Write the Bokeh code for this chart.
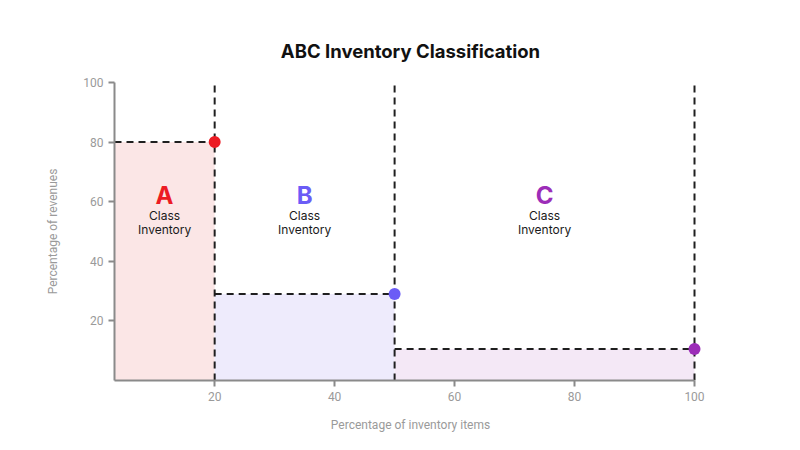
from bokeh.plotting import figure
from bokeh.models import ColumnDataSource, Range1d, FixedTicker
from bokeh.core.properties import value
from bokeh.embed import file_html
from bokeh.resources import INLINE

classes = ["A", "B", "C"]
x_start = [3.3, 20, 50]
x_end = [20, 50, 100]
revenue = [80, 29, 10.6]
label_y = [59, 59, 59]
sub_text = ["Class\nInventory", "Class\nInventory", "Class\nInventory"]
strong_colors = ["#ec1c24", "#6b5cf6", "#9c2db8"]
fill_colors = ["#fbe6e6", "#eeebfc", "#f4e8f6"]
x_ticks = [20, 40, 60, 80, 100]
y_ticks = [20, 40, 60, 80, 100]

x_mid = [(a + b) / 2 for a, b in zip(x_start, x_end)]
src = ColumnDataSource(dict(
    x0=x_start, x1=x_end, y=revenue, base=[0, 0, 0],
    top=[100, 100, 100], xm=x_mid, ly=label_y, cls=classes, sub=sub_text,
    sc=strong_colors, fc=fill_colors,
))

p = figure(width=800, height=450, output_backend="svg", toolbar_location=None,
           x_range=Range1d(x_start[0], 102), y_range=Range1d(0, 100),
           min_border_left=114, min_border_right=94, min_border_top=82,
           min_border_bottom=70, outline_line_color=None)

p.title.text = "ABC Inventory Classification"
p.title.align = "center"
p.title.text_font = "Inter"
p.title.text_font_size = "18.5px"
p.title.text_font_style = "bold"
p.title.text_color = "#111111"
p.title.offset = 0
p.title.standoff = 41

p.quad(left="x0", right="x1", bottom="base", top="y", fill_color="fc",
       line_color=None, source=src)

# horizontal dashed lines
p.segment(x0="x0", y0="y", x1="x1", y1="y", line_color="#1f1f1f", line_width=2,
          line_dash="7 5", source=src)
# vertical dashed lines at right edges
p.segment(x0="x1", y0="base", x1="x1", y1="top", line_color="#1f1f1f", line_width=2,
          line_dash="7 5", source=src)

p.scatter(x="x1", y="y", size=12, fill_color="sc", line_color=None, source=src)

p.text(x="xm", y="ly", text="cls", text_color="sc", text_align="center",
       text_baseline="bottom", text_font=value("Inter"), text_font_style="bold",
       text_font_size="24px", y_offset=5, source=src)
p.text(x="xm", y="ly", text="sub", text_color="#1a1a1a", text_align="center",
       text_baseline="top", text_font=value("Inter"), text_font_size="12px",
       text_line_height=0.95, y_offset=3, source=src)

p.xgrid.visible = False
p.ygrid.visible = False

for ax in (p.xaxis, p.yaxis):
    ax.axis_line_color = "#8a8a8a"
    ax.axis_line_width = 2
    ax.major_tick_line_color = "#8a8a8a"
    ax.major_tick_line_width = 2
    ax.major_tick_out = 6
    ax.major_tick_in = 0
    ax.minor_tick_line_color = None
    ax.major_label_text_color = "#9a9a9a"
    ax.major_label_text_font = "Roboto"
    ax.major_label_text_font_size = "12px"
    ax.major_label_text_font_style = "normal"
    ax.axis_label_text_color = "#9a9a9a"
    ax.axis_label_text_font = "Roboto"
    ax.axis_label_text_font_size = "12px"
    ax.axis_label_text_font_style = "normal"

p.xaxis.bounds = (x_start[0], 100)
p.xaxis.ticker = FixedTicker(ticks=x_ticks)
p.yaxis.ticker = FixedTicker(ticks=y_ticks)
p.xaxis.axis_label = "Percentage of inventory items"
p.yaxis.axis_label = "Percentage of revenues"
p.xaxis.axis_label_standoff = 14
p.yaxis.axis_label_standoff = 20

open("out.html", "w").write(file_html(p, INLINE))
